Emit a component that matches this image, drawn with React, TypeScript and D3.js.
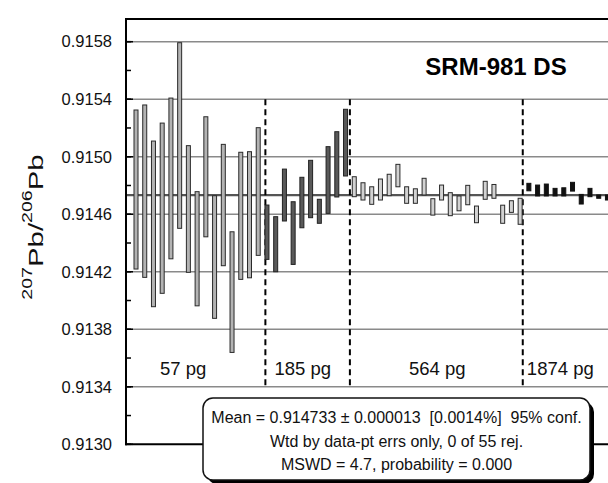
import React from 'react';
import * as d3 from 'd3';

// 207Pb/206Pb of SRM-981 DS runs, grouped by sample size (2-sigma error bars)
const sessionLabels = ['57 pg', '185 pg', '564 pg', '1874 pg'];
const sessionLabelAt = [6.4, 20.1, 35.5, 49.6];
const sessionBreaks = [15.82, 25.5, 45.3];

const hi57 = [0.915325, 0.91536, 0.915109, 0.915234, 0.915408, 0.915793, 0.915077, 0.914757, 0.915278, 0.914729, 0.915086, 0.914478, 0.915031, 0.915035, 0.915202];
const lo57 = [0.914219, 0.914161, 0.913957, 0.91405, 0.91429, 0.914502, 0.914196, 0.913963, 0.914443, 0.913876, 0.914242, 0.913639, 0.914147, 0.914158, 0.914314];

const hi185 = [0.914664, 0.914583, 0.914914, 0.914687, 0.914857, 0.914975, 0.914704, 0.91507, 0.915174, 0.91533];
const lo185 = [0.914286, 0.9142, 0.914553, 0.914251, 0.914506, 0.914576, 0.914537, 0.914606, 0.91472, 0.914866];

const hi564 = [0.914861, 0.914819, 0.914791, 0.914845, 0.914878, 0.914947, 0.914791, 0.914777, 0.91485, 0.914708, 0.914803, 0.91475, 0.914727, 0.914801, 0.914657, 0.914829, 0.914807, 0.914663, 0.914694, 0.914711];
const lo564 = [0.914722, 0.914699, 0.914669, 0.914699, 0.914729, 0.914791, 0.914676, 0.914676, 0.914734, 0.914594, 0.914699, 0.91459, 0.914624, 0.914666, 0.914541, 0.914704, 0.914711, 0.914537, 0.914613, 0.91453];

const hi1874 = [0.914815, 0.914803, 0.91481, 0.91478, 0.914784, 0.914822, 0.914738, 0.91478, 0.914734, 0.914734];
const lo1874 = [0.914763, 0.914727, 0.914727, 0.914727, 0.914727, 0.914761, 0.914671, 0.914722, 0.914711, 0.914699];

const meanRatio = 0.914733;
const yTicks = [0.913, 0.9134, 0.9138, 0.9142, 0.9146, 0.915, 0.9154, 0.9158];
const yTickLabels = ['0.9130', '0.9134', '0.9138', '0.9142', '0.9146', '0.9150', '0.9154', '0.9158'];
const statLines = [
  'Mean = 0.914733 ± 0.000013  [0.0014%]  95% conf.',
  'Wtd by data-pt errs only, 0 of 55 rej.',
  'MSWD = 4.7, probability = 0.000',
];

const sessionFill = ['#b3b3b3', '#595959', '#d2d2d2', '#111'];
const sessionStroke = ['#2a2a2a', '#222', '#2a2a2a', '#111'];
const font = '"Liberation Sans", Arial, Helvetica, sans-serif';

const W = 608;
const H = 483;

const App: React.FC = () => {
  const left = 126;
  const top = 19;
  const x = d3.scaleLinear().domain([0, 57]).range([127.27, 624.9]);
  const y = d3.scaleLinear().domain([0.913, 0.9158]).range([444.3, 41.7]);
  const bottom = y(0.913);

  const sessions = [
    { hi: hi57, lo: lo57 },
    { hi: hi185, lo: lo185 },
    { hi: hi564, lo: lo564 },
    { hi: hi1874, lo: lo1874 },
  ];

  // flatten to one sequence numbered 1..55
  const points: { i: number; hi: number; lo: number; s: number }[] = [];
  sessions.forEach((s, si) => {
    s.hi.forEach((h, k) => {
      points.push({ i: points.length + 1, hi: h, lo: s.lo[k], s: si });
    });
  });

  const minorTicks = d3.range(0, 15).map(k => 0.913 + k * 0.0002);

  return (
    <svg width={W} height={H} style={{ position: 'absolute', left: 0, top: 0 }} fontFamily={font}>
      <rect width={W} height={H} fill="#fff" />

      {/* grid */}
      {yTicks.slice(1).map(t => (
        <line key={'g' + t} x1={left} x2={W + 20} y1={y(t)} y2={y(t)} stroke="#8a8a8a" strokeWidth={1.4} />
      ))}
      <line x1={left} x2={W + 20} y1={y(meanRatio)} y2={y(meanRatio)} stroke="#555" strokeWidth={2.4} />

      {/* session dividers */}
      {sessionBreaks.map(b => (
        <line key={'d' + b} x1={x(b)} x2={x(b)} y1={y(0.9154)} y2={y(0.9134)} stroke="#000" strokeWidth={2} strokeDasharray="6,4" />
      ))}

      {/* error bars */}
      {points.map(p => (
        <rect
          key={p.i}
          x={x(p.i) - 2}
          y={y(p.hi)}
          width={4}
          height={y(p.lo) - y(p.hi)}
          fill={sessionFill[p.s]}
          stroke={sessionStroke[p.s]}
          strokeWidth={1}
        />
      ))}

      {/* frame */}
      <line x1={left} x2={left} y1={top - 1} y2={bottom + 1} stroke="#000" strokeWidth={2} />
      <line x1={left - 1} x2={W + 20} y1={bottom} y2={bottom} stroke="#000" strokeWidth={2} />
      <line x1={left - 1} x2={W + 20} y1={top} y2={top} stroke="#000" strokeWidth={2} />

      {/* y ticks */}
      {minorTicks.map(t => (
        <line key={'m' + t} x1={left} x2={left + 5} y1={y(t)} y2={y(t)} stroke="#000" strokeWidth={1.5} />
      ))}
      {yTicks.map(t => (
        <line key={'t' + t} x1={left} x2={left + 7} y1={y(t)} y2={y(t)} stroke="#000" strokeWidth={1.5} />
      ))}
      {yTicks.map((t, k) => (
        <text key={'l' + t} x={112} y={y(t)} dy="0.35em" textAnchor="end" fontSize={16.5} fill="#111">
          {yTickLabels[k]}
        </text>
      ))}

      {/* y label */}
      <g transform="translate(43,227) rotate(-90) scale(1.4,1)">
        <text textAnchor="middle" fontSize={21} fill="#111">
          <tspan fontSize={14} dy={-11}>207</tspan>
          <tspan dy={11}>Pb/</tspan>
          <tspan fontSize={14} dy={-11}>206</tspan>
          <tspan dy={11}>Pb</tspan>
        </text>
      </g>

      {/* session labels */}
      {sessionLabels.map((s, k) => (
        <text key={s} x={x(sessionLabelAt[k])} y={375} textAnchor="middle" fontSize={18.5} fill="#111">
          {s}
        </text>
      ))}

      <text x={496} y={75} textAnchor="middle" fontSize={24} fontWeight="bold" fill="#000">
        SRM-981 DS
      </text>

      {/* stats box */}
      <rect x={207} y={402} width={387} height={82} rx={10} fill="#000" />
      <rect x={203} y={398} width={387} height={82} rx={10} fill="#fff" stroke="#111" strokeWidth={1.5} />
      {statLines.map((s, k) => (
        <text key={k} x={396.5} y={423 + k * 23.6} textAnchor="middle" fontSize={16} fill="#111" style={{ whiteSpace: 'pre' }}>
          {s}
        </text>
      ))}
    </svg>
  );
};

export default App;
